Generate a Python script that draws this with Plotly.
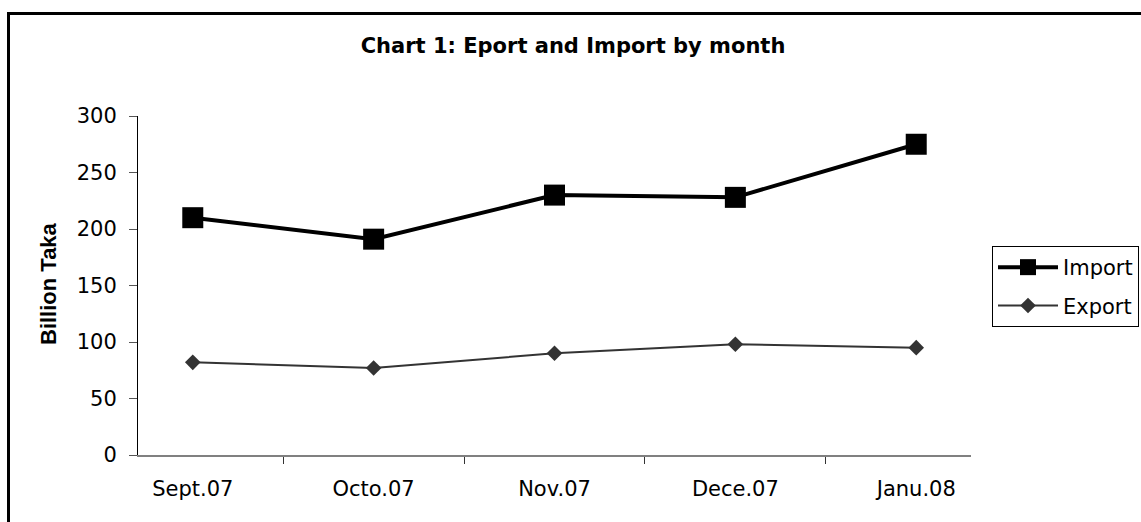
import plotly.graph_objects as go

months = ["Sept.07", "Octo.07", "Nov.07", "Dece.07", "Janu.08"]
import_vals = [210, 191, 230, 228, 275]
export_vals = [82, 77, 90, 98, 95]
y_ticks = [0, 50, 100, 150, 200, 250, 300]

W, H = 1141, 522
L, R, T, B = 138, 170, 116, 67
pw = W - L - R
ph = H - T - B

def px(x):
    return (x - L) / pw

def py(y):
    return (H - B - y) / ph

FONT = "DejaVu Sans"

fig = go.Figure()
fig.add_trace(go.Scatter(
    x=months, y=import_vals, name="Import", mode="lines+markers",
    legendgroup="imp",
    line=dict(color="black", width=4),
    marker=dict(symbol="square", size=21, color="black"),
))
fig.add_trace(go.Scatter(
    x=months, y=export_vals, name="Export", mode="lines+markers",
    legendgroup="exp",
    line=dict(color="#333333", width=2),
    marker=dict(symbol="diamond", size=12, color="#333333"),
))

fig.update_layout(
    width=W, height=H,
    margin=dict(l=L, r=R, t=T, b=B, autoexpand=False),
    paper_bgcolor="white", plot_bgcolor="white",
    font=dict(family=FONT, size=21, color="black"),
    title=dict(text="<b>Chart 1: Eport and Import by month</b>",
               x=px(573), xref="paper", xanchor="center",
               y=1 - 46 / H, yref="container", yanchor="middle",
               font=dict(family="DejaVu Sans", size=21, color="black")),
    showlegend=True,
    legend=dict(x=px(992), xanchor="left", y=py(246), yanchor="top",
                bgcolor="white", bordercolor="black", borderwidth=1,
                font=dict(family=FONT, size=21, color="black"),
                itemwidth=60, traceorder="grouped", tracegroupgap=8),
    xaxis=dict(type="category", showgrid=False, zeroline=False,
               showline=True, linecolor="#808080", linewidth=2,
               ticks="outside", tickson="boundaries", ticklen=7,
               tickcolor="#333333", tickwidth=1,
               ticklabelstandoff=14,
               tickfont=dict(family=FONT, size=21, color="black")),
    yaxis=dict(range=[0, 300], tickvals=y_ticks, showgrid=False,
               zeroline=False, showline=True, linecolor="black", linewidth=1,
               ticks="outside", ticklen=8, tickcolor="#555555", tickwidth=1,
               ticklabelstandoff=8,
               tickfont=dict(family=FONT, size=21, color="black")),
    annotations=[dict(text="<b>Billion Taka</b>", textangle=-90,
                      x=px(48), y=py(284), xref="paper", yref="paper",
                      xanchor="center", yanchor="middle", showarrow=False,
                      font=dict(family="Liberation Sans", size=22, color="black"))],
    shapes=[dict(type="rect", xref="paper", yref="paper",
                 x0=px(8.5), x1=px(1150), y0=py(13.5), y1=py(540),
                 line=dict(color="black", width=3), fillcolor="rgba(0,0,0,0)")],
)

fig.write_html("out.html", config={"displayModeBar": False},
               post_script="document.body.style.margin='0px';")
